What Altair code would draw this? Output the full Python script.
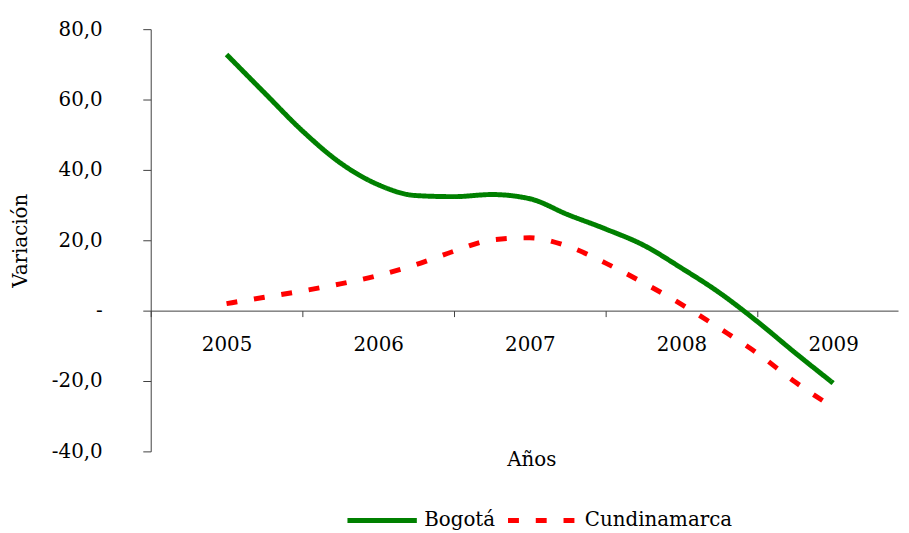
import altair as alt
import pandas as pd

# Quarterly periods (fractional years) and values
periodo = [2005.0, 2005.25, 2005.5, 2005.75, 2006.0, 2006.25, 2006.5, 2006.75,
           2007.0, 2007.25, 2007.5, 2007.75, 2008.0, 2008.25, 2008.5, 2008.75, 2009.0]
bogota = [72.8, 61.9, 51.1, 42.0, 35.8, 32.7, 32.4, 33.0,
          31.8, 27.3, 23.2, 18.6, 12.1, 5.1, -3.1, -12.0, -20.6]
cundinamarca = [2.0, 3.8, 5.6, 7.6, 10.0, 13.1, 16.9, 20.1,
                20.7, 18.3, 13.5, 7.9, 1.8, -5.0, -12.1, -20.3, -27.5]

series = ["Bogotá", "Cundinamarca"]
colors = ["#008000", "#ff0000"]
dashes = [[1, 0], [11, 17]]
# category boundaries (ticks); year labels sit half a year to the right
year_bounds = [2004.5, 2005.5, 2006.5, 2007.5, 2008.5]
y_ticks = [-40, -20, 0, 20, 40, 60, 80]

rows = []
for p, b, c in zip(periodo, bogota, cundinamarca):
    rows.append({"periodo": p, "valor": b, "serie": series[0]})
    rows.append({"periodo": p, "valor": c, "serie": series[1]})
df = pd.DataFrame(rows)

FONT = "DejaVu Serif"
AX = "#404040"
xscale = alt.Scale(domain=[2004.5, 2009.428], nice=False, zero=False)

legend = alt.Legend(
    orient="none", legendX=196, legendY=458, direction="horizontal", title=None,
    symbolType="stroke", symbolSize=4900, symbolStrokeWidth=5,
    labelFont=FONT, labelFontSize=20, labelColor="black", labelOffset=5,
    columnPadding=2,
)

lines = alt.Chart(df).mark_line(strokeWidth=5, interpolate="monotone").encode(
    x=alt.X("periodo:Q", scale=xscale,
            axis=alt.Axis(values=year_bounds,
                          labelExpr="format(datum.value + 0.5, 'd')",
                          labelOffset=76.5, labelFlush=False, labelOverlap=False,
                          tickSize=6, domain=True, grid=False,
                          offset=-142, labelPadding=28, labelBaseline="middle",
                          labelFont=FONT, labelFontSize=20, labelColor="black",
                          domainColor=AX, tickColor=AX,
                          title="Años", titleFont=FONT, titleFontSize=20,
                          titleFontWeight="normal", titleColor="black",
                          titleX=384, titleY=150, titleBaseline="middle",
                          titleAlign="center")),
    y=alt.Y("valor:Q", scale=alt.Scale(domain=[-40, 80], nice=False, zero=False),
            axis=alt.Axis(values=y_ticks,
                          labelExpr="datum.value == 0 ? '-' : replace((datum.value < 0 ? '-' : '') + format(abs(datum.value), '.1f'), '.', ',')",
                          tickSize=8, labelPadding=41, grid=False,
                          domainColor=AX, tickColor=AX, labelFont=FONT, labelFontSize=20,
                          labelColor="black", labelBaseline="middle",
                          title="Variación", titleFont=FONT, titleFontSize=20,
                          titleFontWeight="normal", titleColor="black",
                          titleX=-131, titleY=213, titleAngle=270,
                          titleBaseline="middle", titleAlign="center")),
    color=alt.Color("serie:N", scale=alt.Scale(domain=series, range=colors), legend=legend),
    strokeDash=alt.StrokeDash("serie:N", scale=alt.Scale(domain=series, range=dashes), legend=legend),
)

chart = lines.properties(
    width=754, height=426,
    background="white",
    autosize=alt.AutoSizeParams(type="none"),
    padding={"left": 144, "top": 19, "right": 3, "bottom": 80},
).configure_view(stroke=None)

chart.save("out.html", embed_options={"renderer": "svg", "actions": False})
